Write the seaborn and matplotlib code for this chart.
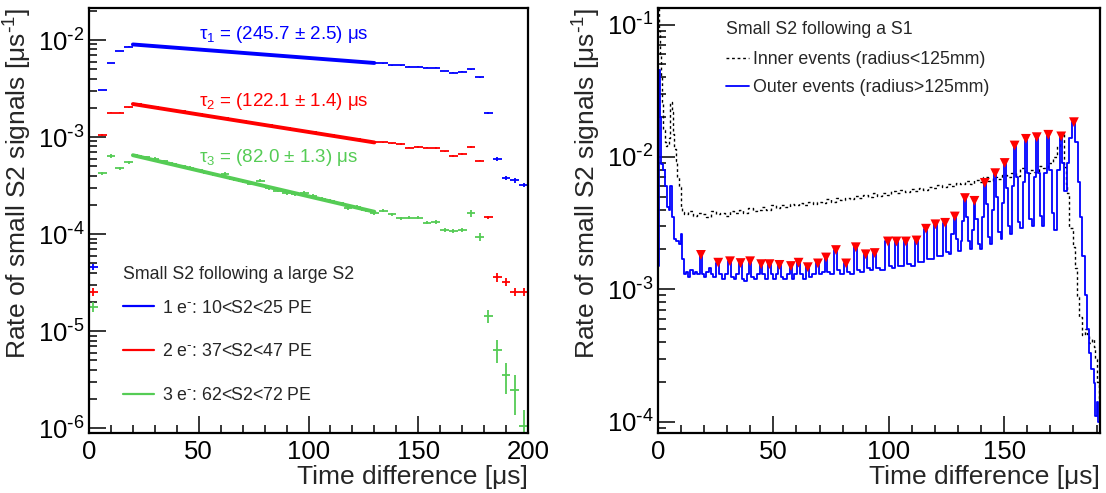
import numpy as np
import matplotlib
matplotlib.use("Agg")
import matplotlib.pyplot as plt
import seaborn as sns
from matplotlib.lines import Line2D
from matplotlib.ticker import MultipleLocator, FuncFormatter

# ---------------- left panel: small S2 after a large S2 (4 us bins) ----------------
bin_t = np.arange(2, 200, 4)

blue_v = [4.6e-5, 3.05e-3, 5.8e-3, 7.7e-3, 8.5e-3,
          8.9e-3, 8.8e-3, 8.65e-3, 8.5e-3, 8.4e-3, 8.25e-3, 8.1e-3, 8.0e-3, 7.9e-3, 7.75e-3,
          7.6e-3, 7.5e-3, 7.4e-3, 7.3e-3, 7.15e-3, 7.05e-3, 6.95e-3, 6.85e-3, 6.75e-3, 6.6e-3,
          6.5e-3, 6.4e-3, 6.3e-3, 6.2e-3, 6.1e-3, 6.0e-3, 5.9e-3, 5.8e-3,
          5.75e-3, 5.48e-3, 5.48e-3, 5.3e-3, 5.3e-3, 5.19e-3, 5.19e-3, 4.8e-3, 4.6e-3, 4.7e-3,
          5.0e-3, 4.12e-3, 1.78e-3, 5.93e-4, 3.8e-4, 3.57e-4, 3.2e-4]
red_v = [2.54e-5, 1.05e-3, 1.78e-3, 1.78e-3, 2.02e-3,
         2.17e-3, 2.10e-3, 2.03e-3, 1.96e-3, 1.90e-3, 1.84e-3, 1.78e-3, 1.72e-3, 1.66e-3, 1.61e-3,
         1.56e-3, 1.51e-3, 1.46e-3, 1.41e-3, 1.36e-3, 1.32e-3, 1.28e-3, 1.23e-3, 1.19e-3, 1.15e-3,
         1.12e-3, 1.08e-3, 1.05e-3, 1.01e-3, 9.8e-4, 9.5e-4, 9.2e-4, 8.9e-4,
         8.8e-4, 8.6e-4, 8.5e-4, 7.8e-4, 7.9e-4, 7.8e-4, 7.7e-4, 7.1e-4, 6.37e-4, 6.7e-4,
         7.9e-4, 5.7e-4, 1.49e-4, 3.57e-5, 3.23e-5, 2.54e-5, 2.54e-5]
green_v = [1.78e-5, 4.22e-4, 6.4e-4, 4.75e-4, 5.5e-4,
           6.4e-4, 6.2e-4, 6.0e-4, 5.6e-4, 5.3e-4, 5.0e-4, 4.8e-4, 4.55e-4, 4.3e-4, 4.1e-4,
           4.16e-4, 3.7e-4, 3.5e-4, 3.3e-4, 3.55e-4, 2.95e-4, 2.8e-4, 2.63e-4, 2.6e-4, 2.67e-4,
           2.47e-4, 2.3e-4, 2.2e-4, 2.08e-4, 1.84e-4, 1.91e-4, 1.78e-4, 1.63e-4,
           1.74e-4, 1.6e-4, 1.45e-4, 1.48e-4, 1.48e-4, 1.31e-4, 1.33e-4, 1.1e-4, 1.08e-4, 1.1e-4,
           1.63e-4, 9.4e-5, 1.43e-5, 6.4e-6, 3.5e-6, 2.46e-6, 1.05e-6]

# relative errors per bin
blue_err = [0.07] + [0.01] * 44 + [0.02, 0.04, 0.05, 0.05, 0.05]
red_err = [0.1] + [0.015] * 44 + [0.03, 0.1, 0.1, 0.1, 0.1]
green_err = [0.12] + [0.04] * 42 + [0.08, 0.1, 0.15, 0.27, 0.35, 0.45, 0.45]

# exponential fits (end points, 20-130 us)
fit_t = [20, 130]
blue_fit = [9.0e-3, 5.8e-3]
red_fit = [2.19e-3, 8.8e-4]
green_fit = [6.5e-4, 1.7e-4]
fit_labels = ["τ$_1$ = (245.7 ± 2.5) μs", "τ$_2$ = (122.1 ± 1.4) μs", "τ$_3$ = (82.0 ± 1.3) μs"]
fit_label_y = [1.13e-2, 2.3e-3, 6.2e-4]
legend_left = [r"1 e$^{\text{-}}$: 10<S2<25 PE", r"2 e$^{\text{-}}$: 37<S2<47 PE",
               r"3 e$^{\text{-}}$: 62<S2<72 PE"]

# ---------------- right panel: small S2 after a S1 ----------------
inner_t = [0.0, 0.5, 1.0, 1.5, 2.0, 2.6, 3.2, 3.8, 4.4, 5.0, 5.6, 6.2, 6.8, 7.4, 8.0, 8.8, 9.4,
           10.2, 10.9, 11.5,
           12, 14, 16, 18, 20, 22, 24, 26, 28, 30, 32, 34, 36, 38, 40, 42, 44, 46, 48, 50,
           52, 54, 56, 58, 60, 62, 64, 66, 68, 70, 72, 74, 76, 78, 80, 82, 84, 86, 88, 90,
           92, 94, 96, 98, 100, 102, 104, 106, 108, 110, 112, 114, 116, 118, 120, 122, 124,
           126, 128, 130, 132, 134, 136, 138, 140, 142, 144, 146, 148, 150, 152, 154, 156,
           158, 160, 162, 164, 166, 168, 170, 172,
           173.5, 174.5, 175.5, 176.3, 177.0, 177.6, 178.3, 179.0, 180.4, 181.2, 181.9, 183.3,
           184.5, 185.5, 186.3, 187.5, 188.5, 189.1, 190.0, 190.8, 191.3]
inner_v = [1.3e-1, 9e-2, 6e-2, 4e-2, 2.6e-2, 1.6e-2, 1.3e-2, 1.2e-2, 1.25e-2, 1.4e-2, 2.6e-2,
           2.2e-2, 1.5e-2, 1.15e-2, 9.4e-3, 7e-3, 5.9e-3, 4.1e-3, 3.85e-3, 3.7e-3,
           3.7e-3, 3.9e-3, 3.6e-3, 3.8e-3, 3.7e-3, 3.5e-3, 3.9e-3, 3.7e-3, 3.8e-3, 3.6e-3,
           3.9e-3, 3.8e-3, 4.0e-3, 3.8e-3, 4.1e-3, 3.9e-3, 4.0e-3, 4.2e-3, 4.0e-3, 4.3e-3,
           4.1e-3, 4.3e-3, 4.2e-3, 4.4e-3, 4.3e-3, 4.5e-3, 4.3e-3, 4.6e-3, 4.4e-3, 4.6e-3,
           4.5e-3, 4.8e-3, 4.6e-3, 4.9e-3, 4.7e-3, 4.9e-3, 4.8e-3, 5.1e-3, 4.9e-3, 5.2e-3,
           5.0e-3, 5.3e-3, 5.1e-3, 5.3e-3, 5.2e-3, 5.5e-3, 5.3e-3, 5.6e-3, 5.4e-3, 5.7e-3,
           5.5e-3, 5.8e-3, 5.6e-3, 5.9e-3, 5.8e-3, 6.1e-3, 5.9e-3, 6.2e-3, 6.0e-3, 6.4e-3,
           6.2e-3, 6.6e-3, 6.3e-3, 6.7e-3, 6.5e-3, 7.0e-3, 6.6e-3, 7.1e-3, 6.8e-3, 7.3e-3,
           7.0e-3, 7.6e-3, 7.2e-3, 8.2e-3, 7.5e-3, 8.0e-3, 7.7e-3, 8.6e-3, 8.3e-3, 9.0e-3,
           1.0e-2,
           1.2e-2, 1.45e-2, 1.5e-2, 8.4e-3, 6.3e-3, 5.3e-3, 2.9e-3, 2.9e-3, 2.1e-3, 1.45e-3,
           8.8e-4, 6.2e-4, 4.5e-4, 5.0e-4, 4.6e-4, 3.9e-4, 4.2e-4, 3.7e-4, 3.0e-4, 2.0e-4, 1.5e-4]

outer_t = [0.0, 0.6, 1.2, 1.8, 2.6, 3.4, 4.2, 5.0, 5.8, 6.5, 7.2, 8.5, 9.5, 10.2, 10.9, 11.6,
           12.5, 13.5, 14.5, 15.5, 16.5, 17.5, 18.6, 19.5, 20.5, 21.5, 22.5, 23.5, 24.5, 26.1,
           27.0, 28.5, 29.5, 31.2, 32.2, 33.5, 34.5, 35.8, 36.8, 38.0, 39.0, 39.9, 41.0, 42.5,
           43.5, 44.7, 45.7, 46.8, 48.3, 49.3, 50.5, 51.5, 52.6, 53.6, 55.0, 56.5, 57.6, 58.6,
           59.5, 60.9, 62.0, 63.5, 64.9, 66.0, 67.5, 69.3, 70.3, 71.5, 72.8, 73.8, 75.5, 77.1,
           78.1, 79.5, 81.5, 82.5, 84.0, 85.7, 86.7, 88.5, 90.0, 91.0, 92.5, 93.9, 95.0, 97.0,
           99.6, 100.6, 102.0, 103.3, 104.3, 106.0, 107.4, 108.4, 110.5, 112.0, 113.0, 114.5,
           116.1, 117.2, 118.8, 120.2, 121.3, 122.9, 124.4, 125.5, 126.6, 127.6, 128.6, 129.6,
           130.6, 131.6, 132.2, 133.0, 133.9, 134.8, 135.6, 136.3, 137.1, 138.0, 139.0, 139.8,
           140.7, 141.6, 142.5, 143.5, 144.3, 145.2, 146.1, 147.0, 148.0, 148.8, 149.5, 150.2,
           151.2, 152.2, 153.0, 153.7, 154.5, 155.5, 156.5, 157.5, 158.5, 159.4, 160.4, 161.4,
           162.3, 163.2, 164.1, 165.1, 166.0, 166.8, 168.0, 169.1, 170.1, 171.2, 172.2, 173.4,
           174.7, 175.6, 176.6, 177.5, 178.8, 180.2, 181.3, 182.3, 183.3, 184.3, 185.3, 186.3,
           187.3, 188.3, 189.1, 189.7, 190.3, 191.0]
outer_v = [1.5e-3, 4.5e-2, 2.0e-2, 8.9e-3, 8.0e-3, 6.0e-3, 4.2e-3, 4.0e-3, 6.0e-3, 3.5e-3,
           2.4e-3, 2.3e-3, 2.2e-3, 2.6e-3, 1.7e-3, 1.3e-3,
           1.35e-3, 1.25e-3, 1.4e-3, 1.3e-3, 1.35e-3, 1.3e-3, 1.82e-3, 1.3e-3, 1.25e-3, 1.35e-3,
           1.45e-3, 1.3e-3, 1.25e-3, 1.59e-3, 1.3e-3, 1.2e-3, 1.3e-3, 1.63e-3, 1.25e-3, 1.2e-3,
           1.3e-3, 1.58e-3, 1.2e-3, 1.15e-3, 1.3e-3, 1.63e-3, 1.25e-3, 1.2e-3, 1.3e-3, 1.55e-3,
           1.3e-3, 1.2e-3, 1.55e-3, 1.3e-3, 1.2e-3, 1.3e-3, 1.53e-3, 1.25e-3, 1.2e-3, 1.3e-3,
           1.5e-3, 1.2e-3, 1.3e-3, 1.59e-3, 1.3e-3, 1.2e-3, 1.47e-3, 1.25e-3, 1.3e-3, 1.57e-3,
           1.3e-3, 1.35e-3, 1.74e-3, 1.35e-3, 1.3e-3, 1.98e-3, 1.4e-3, 1.3e-3, 1.57e-3, 1.35e-3,
           1.3e-3, 2.08e-3, 1.4e-3, 1.35e-3, 1.84e-3, 1.45e-3, 1.4e-3, 1.88e-3, 1.45e-3, 1.4e-3,
           2.3e-3, 1.5e-3, 1.45e-3, 2.3e-3, 1.5e-3, 1.5e-3, 2.3e-3, 1.55e-3, 1.5e-3, 2.34e-3,
           1.6e-3, 1.6e-3, 2.87e-3, 1.7e-3, 1.7e-3, 3.1e-3, 1.8e-3, 1.8e-3, 3.18e-3, 1.9e-3,
           1.85e-3, 2.6e-3, 3.55e-3, 2.4e-3, 1.95e-3, 2.3e-3, 3.3e-3, 4.89e-3, 3.5e-3, 2.3e-3,
           2.0e-3, 2.8e-3, 4.66e-3, 3.4e-3, 2.2e-3, 2.0e-3, 3.5e-3, 6.37e-3, 4.4e-3, 2.5e-3,
           2.2e-3, 4.0e-3, 7.54e-3, 5.0e-3, 2.7e-3, 2.4e-3, 4.5e-3, 9.0e-3, 5.8e-3, 3.0e-3,
           2.6e-3, 6.0e-3, 1.22e-2, 7.0e-3, 3.2e-3, 2.9e-3, 6.5e-3, 1.37e-2, 7.5e-3, 3.4e-3,
           3.0e-3, 7.0e-3, 1.41e-2, 7.5e-3, 3.6e-3, 3.0e-3, 7.5e-3, 1.47e-2, 8.0e-3, 3.8e-3,
           2.8e-3, 8.0e-3, 1.43e-2, 9.0e-3, 5.5e-3, 9.0e-3, 1.4e-2, 1.83e-2, 1.3e-2, 6.5e-3,
           3.5e-3, 1.8e-3, 9e-4, 5e-4, 3.3e-4, 2.5e-4, 1.95e-4, 1.1e-4, 1.4e-4, 1.0e-4]

peak_t = [18.6, 26.1, 31.2, 35.8, 39.9, 44.7, 48.3, 52.6, 57.6, 60.9, 64.9, 69.3, 72.8, 77.1,
          81.5, 85.7, 90.0, 93.9, 99.6, 103.3, 107.4, 112.0, 116.1, 120.2, 124.4, 128.6, 133.0,
          137.1, 141.6, 146.1, 150.2, 154.5, 159.4, 164.1, 169.1, 174.7, 180.2]
peak_v = [1.82e-3, 1.59e-3, 1.63e-3, 1.58e-3, 1.63e-3, 1.55e-3, 1.55e-3, 1.53e-3, 1.5e-3,
          1.59e-3, 1.47e-3, 1.57e-3, 1.74e-3, 1.98e-3, 1.57e-3, 2.08e-3, 1.84e-3, 1.88e-3,
          2.3e-3, 2.3e-3, 2.3e-3, 2.34e-3, 2.87e-3, 3.1e-3, 3.18e-3, 3.55e-3, 4.89e-3, 4.66e-3,
          6.37e-3, 7.54e-3, 9.0e-3, 1.22e-2, 1.37e-2, 1.41e-2, 1.47e-2, 1.43e-2, 1.83e-2]

BLUE = "#0000ff"
RED = "#ff0000"
GREEN = "#55cc55"

sns.set_theme(style="ticks")
plt.rcParams["font.family"] = ["Liberation Sans", "DejaVu Sans"]
plt.rcParams["mathtext.default"] = "regular"
plt.rcParams["axes.unicode_minus"] = False


def decade_label(v, pos):
    e = int(round(np.log10(v)))
    return r"10$^{\text{-}%d}$" % (-e)


fig = plt.figure(figsize=(11.06, 4.93), dpi=100)
ax1 = fig.add_axes([89 / 1106, 60 / 493, 439 / 1106, 425 / 493])
ax2 = fig.add_axes([658 / 1106, 60 / 493, 442 / 1106, 425 / 493])

# left panel
for vals, err, col in [(blue_v, blue_err, BLUE), (red_v, red_err, RED), (green_v, green_err, GREEN)]:
    v = np.array(vals)
    ax1.errorbar(bin_t, v, xerr=2, yerr=v * np.array(err), fmt="none",
                 ecolor=col, elinewidth=1.3, capsize=0)
for fit, col in [(blue_fit, BLUE), (red_fit, RED), (green_fit, GREEN)]:
    sns.lineplot(x=fit_t, y=fit, ax=ax1, color=col, lw=2.8)
for lab, y, col in zip(fit_labels, fit_label_y, [BLUE, RED, GREEN]):
    ax1.text(50, y, lab, color=col, fontsize=13.5, va="center")

handles = [Line2D([], [], color=c, lw=1.6) for c in [BLUE, RED, GREEN]]
leg = ax1.legend(handles, legend_left, title="Small S2 following a large S2",
                 loc="upper left", bbox_to_anchor=(0.062, 0.41), frameon=False,
                 fontsize=12.8, title_fontsize=12.8, handlelength=1.75, handletextpad=0.4,
                 labelspacing=1.5, alignment="left", borderaxespad=0)
leg._legend_box.sep = 12

ax1.set_yscale("log")
ax1.set_xlim(0, 200)
ax1.set_ylim(10 ** -6.05, 10 ** -1.67)

# right panel
sns.lineplot(x=inner_t, y=inner_v, ax=ax2, color="black", lw=1.0, linestyle=(0, (2, 2)),
             drawstyle="steps-mid", estimator=None, sort=False)
sns.lineplot(x=outer_t, y=outer_v, ax=ax2, color=BLUE, lw=1.3,
             drawstyle="steps-mid", estimator=None, sort=False)
sns.scatterplot(x=peak_t, y=peak_v, ax=ax2, marker="v", color=RED, s=50,
                edgecolor="none", zorder=5)
handles2 = [Line2D([], [], color="black", lw=1.0, linestyle=(0, (2, 2))),
            Line2D([], [], color=BLUE, lw=1.3)]
leg2 = ax2.legend(handles2, ["Inner events (radius<125mm)", "Outer events (radius>125mm)"],
                  title="Small S2 following a S1", loc="upper left",
                  bbox_to_anchor=(0.138, 0.985), frameon=False, fontsize=12.8,
                  title_fontsize=12.8, handlelength=1.3, handletextpad=0.2,
                  labelspacing=0.62, alignment="left", borderaxespad=0)
leg2._legend_box.sep = 9
ax2.set_yscale("log")
ax2.set_xlim(0, 191.5)
ax2.set_ylim(10 ** -4.085, 10 ** -0.875)

for ax in (ax1, ax2):
    ax.xaxis.set_major_locator(MultipleLocator(50))
    ax.xaxis.set_minor_locator(MultipleLocator(10))
    ax.yaxis.set_major_formatter(FuncFormatter(decade_label))
    ax.tick_params(which="both", direction="in", top=False, right=False, colors="black",
                   labelsize=18.5, width=1.1)
    ax.tick_params(which="major", length=12, pad=5)
    ax.tick_params(which="minor", length=6)
    ax.tick_params(axis="y", which="major", pad=3)
    for s in ax.spines.values():
        s.set_color("black")
        s.set_linewidth(1.6)
    ax.set_xlabel("Time difference [μs]", fontsize=19, loc="right", labelpad=1)
    ax.set_ylabel(r"Rate of small S2 signals [μs$^{\text{-}1}$]", fontsize=19, loc="top",
                  labelpad=3)
    ax.grid(False)

fig.savefig("out.png", dpi=100)
